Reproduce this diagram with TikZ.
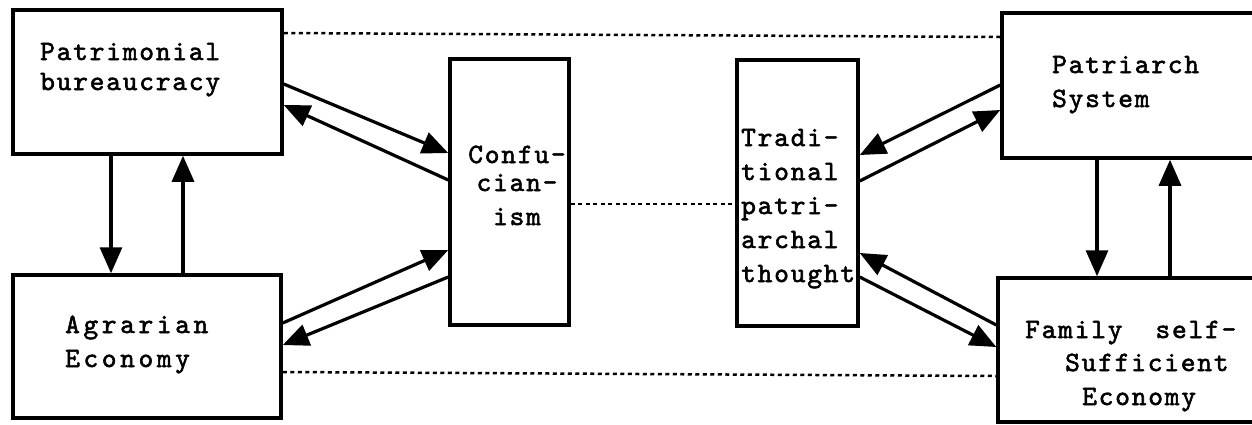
\documentclass[tikz,border=0pt]{standalone}
\usepackage{fontspec}
\newfontfamily\tw{lmmono10-regular.otf}[FakeBold=2,LetterSpace=6.5]
\newfontfamily\twwide{lmmono10-regular.otf}[FakeBold=2,LetterSpace=13]
\usetikzlibrary{arrows.meta}
\begin{document}
\begin{tikzpicture}[x=1pt,y=-1pt,
  boxstyle/.style={draw, line width=3.5pt, inner sep=0pt},
  txt/.style={font=\tw\fontsize{28}{34}\selectfont, inner sep=0pt, anchor=base west, align=left},
  txtwide/.style={font=\twwide\fontsize{28}{34}\selectfont, inner sep=0pt, anchor=base west, align=left},
  arr/.style={line width=3.2pt, -{Triangle[length=26pt,width=22pt]}},
  dotline/.style={line width=2.5pt, dash pattern=on 4pt off 3.5pt}]
\useasboundingbox (0,0) rectangle (1252,424);
\clip (0,0) rectangle (1252,424);
% boxes
\node[boxstyle, minimum width=269pt, minimum height=144pt] (pb) at (147.5,82) {};
\node[boxstyle, minimum width=268pt, minimum height=143pt] (ae) at (147,346.5) {};
\node[boxstyle, minimum width=119pt, minimum height=266pt] (conf) at (509.5,192) {};
\node[boxstyle, minimum width=121pt, minimum height=266pt] (trad) at (797.5,193) {};
\node[boxstyle, minimum width=270pt, minimum height=145pt] (ps) at (1137,85.5) {};
\node[boxstyle, minimum width=272pt, minimum height=144pt] (fam) at (1134,350) {};
% texts (anchor = baseline of the last line)
\node[txt] (pbt) at (40,90) {Patrimonial\\[-4pt]bureaucracy};
\node[txtwide] (aet) at (65,367) {Agrarian\\Economy};
\node[txt, align=center, anchor=base] (conft) at (517,225) {Confu-\\[-6pt]cian-\\ism};
\node[txt] (tradt) at (741,282) {Tradi-\\tional\\patri-\\archal\\thought};
\node[txt] (pst) at (1052,107) {Patriarch\\System};
\node[txt] (famt) at (1025,405) {Family~~self-\\[-1pt]\hspace*{40pt}Sufficient\\\hspace*{57pt}Economy};
% vertical arrows
\draw[arr] (pb.south -| 111,0) -- (ae.north -| 111,0);
\draw[arr] (ae.north -| 183,0) -- (pb.south -| 183,0);
\draw[arr] (ps.south -| 1097,0) -- (fam.north -| 1097,0);
\draw[arr] (fam.north -| 1170,0) -- (ps.south -| 1170,0);
% diagonal arrows
\draw[arr] (pb.east |- 0,84) -- (conf.west |- 0,153);
\draw[arr] (conf.west |- 0,180) -- (pb.east |- 0,105);
\draw[arr] (ae.east |- 0,323) -- (conf.west |- 0,250);
\draw[arr] (conf.west |- 0,277) -- (ae.east |- 0,345);
\draw[arr] (ps.west |- 0,85) -- (trad.east |- 0,155);
\draw[arr] (trad.east |- 0,181) -- (ps.west |- 0,110);
\draw[arr] (fam.west |- 0,325) -- (trad.east |- 0,253);
\draw[arr] (trad.east |- 0,277) -- (fam.west |- 0,347);
% dotted links
\draw[dotline] (pb.east |- 0,33) -- (ps.west |- 0,37);
\draw[dotline] (ae.east |- 0,372) -- (fam.west |- 0,376);
\draw[dotline] (conf.east |- 0,204) -- (trad.west |- 0,204);
\end{tikzpicture}
\end{document}
